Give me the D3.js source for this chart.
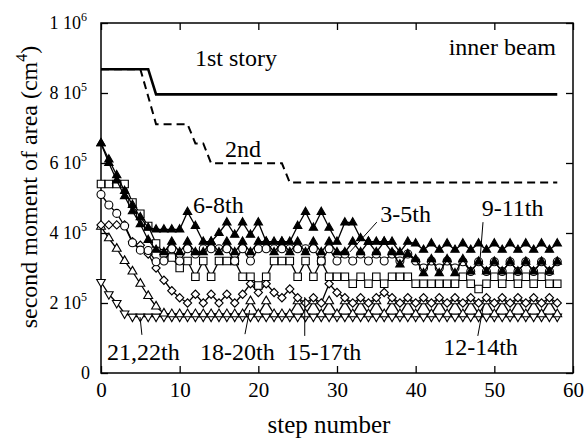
<!DOCTYPE html>
<html><head><meta charset="utf-8">
<script src="https://cdn.jsdelivr.net/npm/d3@7"></script>
<style>
body{margin:0;background:#fff}
svg{display:block}
</style>
</head><body><svg id="c" width="586" height="439"></svg>
<script>
// ---------- DATA (values in 10^3 cm^4) ----------
const steps = d3.range(0, 59);
const story1 = [868,868,868,868,868,868,868,796,796,796,
  796,796,796,796,796,796,796,796,796,796,
  796,796,796,796,796,796,796,796,796,796,
  796,796,796,796,796,796,796,796,796,796,
  796,796,796,796,796,796,796,796,796,796,
  796,796,796,796,796,796,796,796,796];
const story2 = [868,868,868,868,868,868,790,711,711,711,
  711,711,656,656,599,599,599,599,599,599,
  599,599,599,599,544,544,544,544,544,544,
  544,544,544,544,544,544,544,544,544,544,
  544,544,544,544,544,544,544,544,544,544,
  544,544,544,544,544,544,544,544,544];
const s6_8 = [656,610,565,520,480,445,415,410,410,410,
  410,460,420,375,375,400,430,395,430,395,
  430,375,375,375,375,420,460,415,460,415,
  375,430,430,385,375,375,375,375,345,375,
  370,352,370,352,370,352,370,352,370,352,
  370,352,370,352,370,352,370,352,370];
const s3_5 = [656,600,550,505,462,425,380,352,345,375,
  345,375,345,345,375,345,375,345,375,345,
  375,375,345,375,345,375,345,375,345,375,
  345,345,375,345,375,345,375,345,310,340,
  325,285,325,285,325,285,325,290,318,290,
  318,290,318,290,318,290,318,290,318];
const s9_11 = [510,480,456,420,372,351,350,318,320,355,
  320,355,340,355,355,355,355,320,355,320,
  355,355,355,355,355,355,355,355,320,355,
  320,340,320,340,320,340,320,340,320,340,
  320,300,320,300,320,300,318,290,318,290,
  318,290,318,290,318,290,318,290,318];
const s12_14 = [540,540,540,540,487,455,420,370,342,330,
  300,320,275,320,275,320,320,320,275,275,
  250,275,320,320,320,275,320,275,320,275,
  275,275,255,275,255,275,255,275,275,275,
  255,255,255,255,255,255,275,255,240,255,
  275,255,275,255,275,255,275,255,255];
const s15_17 = [423,423,423,423,375,365,340,300,265,235,
  215,200,225,200,225,200,225,200,225,255,
  230,255,230,215,240,215,200,215,200,255,
  230,215,200,215,200,215,230,215,200,215,
  200,215,200,215,200,215,200,215,200,215,
  200,215,200,215,200,215,200,215,200];
const s18_20 = [418,385,355,320,290,255,220,190,170,168,
  168,168,168,168,168,168,168,168,168,205,
  168,205,168,168,168,205,168,205,168,205,
  168,205,168,205,168,205,168,205,168,205,
  168,205,168,205,168,205,168,205,168,205,
  168,205,168,205,168,205,168,205,168];
const s21_22 = [260,225,200,170,161,161,161,161,161,161,
  161,161,161,161,161,161,161,161,161,161,
  161,161,161,161,161,161,161,161,161,161,
  161,161,161,161,161,161,161,161,161,161,
  161,161,161,161,161,161,161,161,161,161,
  161,161,161,161,161,161,161,161,161];

const xTicks = [0, 10, 20, 30, 40, 50, 60];
const yTicks = [0, 200, 400, 600, 800, 1000];
const yTickMant = ["0", "2 10", "4 10", "6 10", "8 10", "1 10"];
const yTickExp  = ["", "5", "5", "5", "5", "6"];

const labelTexts = ["1st story", "2nd", "6-8th", "3-5th", "9-11th", "12-14th", "15-17th", "18-20th", "21,22th", "inner beam"];

// ---------- LAYOUT ----------
const FONT = '"Liberation Serif","Times New Roman",Times,serif';
const svg = d3.select("#c");
const m = {l:101, r:573, t:23, b:373};
const x = d3.scaleLinear().domain([0, 60]).range([m.l, m.r]);
const y = d3.scaleLinear().domain([0, 1000]).range([m.b, m.t]);

// annotation placement (data coords)
const labelPos = [[11.95,877],[15.76,617],[11.7,457],[35.5,431],[48.4,449],[43.5,51],[23.6,37],[12.6,37],[0.76,37],[44.2,909]];
const leaders = [
  [[35.06,431],[31.65,346]],
  [[48.56,431],[48.2,329]],
  [[47.9,106],[48.6,191]],
  [[25.9,106],[25.9,217]],
  [[18.3,111],[18.9,180]],
  [[5.2,109],[4.96,160]]
];

// ---------- AXES ----------
const tickLen = 7;
function styleAxis(g){ g.attr("font-family",null); g.select(".domain").remove(); g.selectAll(".tick line").attr("stroke","#000").attr("stroke-width",1.3); }

svg.append("g").attr("transform",`translate(0,${m.b})`)
  .call(d3.axisBottom(x).tickValues(xTicks).tickSize(-tickLen).tickSizeOuter(0))
  .call(styleAxis)
  .call(g=>g.selectAll(".tick text").attr("y",24).attr("dy",0).attr("font-size",21).attr("fill","#000").style("font-family",FONT));

svg.append("g").attr("transform",`translate(0,${m.t})`)
  .call(d3.axisTop(x).tickValues(xTicks).tickSize(-tickLen).tickSizeOuter(0).tickFormat(""))
  .call(styleAxis);

svg.append("g").attr("transform",`translate(${m.r},0)`)
  .call(d3.axisRight(y).tickValues(yTicks).tickSize(-tickLen).tickSizeOuter(0).tickFormat(""))
  .call(styleAxis);

const gL = svg.append("g").attr("transform",`translate(${m.l},0)`)
  .call(d3.axisLeft(y).tickValues(yTicks).tickSize(-tickLen).tickSizeOuter(0).tickFormat(""))
  .call(styleAxis);
gL.selectAll(".tick").each(function(d,i){
  const t = d3.select(this).append("text")
    .attr("x", yTickExp[i] ? -14 : -11).attr("y", 5)
    .attr("text-anchor","end").attr("font-size",18).attr("fill","#000")
    .style("font-family",FONT);
  t.append("tspan").text(yTickMant[i]);
  if (yTickExp[i]) t.append("tspan").attr("font-size",12).attr("dy",-8).text(yTickExp[i]);
});

// frame
svg.append("rect").attr("x",m.l).attr("y",m.t).attr("width",m.r-m.l).attr("height",m.b-m.t)
  .attr("fill","none").attr("stroke","#000").attr("stroke-width",1.5);

// axis titles
svg.append("text").attr("x",329).attr("y",433).attr("text-anchor","middle")
  .attr("font-size",25).style("font-family",FONT).text("step number");
const yt = svg.append("text").attr("transform","translate(37,187) rotate(-90)")
  .attr("text-anchor","middle").attr("font-size",24).style("font-family",FONT);
yt.append("tspan").text("second moment of area (cm");
yt.append("tspan").attr("font-size",16).attr("dy",-10).text("4");
yt.append("tspan").attr("dy",10).text(")");

// ---------- LINES ----------
const line = d3.line().x((d,i)=>x(steps[i])).y(d=>y(d));
svg.append("path").datum(story2).attr("d",line).attr("fill","none").attr("stroke","#000")
  .attr("stroke-width",2).attr("stroke-dasharray","8,5");
svg.append("path").datum(story1).attr("d",line).attr("fill","none").attr("stroke","#000")
  .attr("stroke-width",2.6);

// ---------- MARKER SERIES ----------
const series = [
  {v:s21_22, sym:d3.symbolTriangle, size:32, rot:180, fill:"#fff"},
  {v:s18_20, sym:d3.symbolTriangle, size:34, rot:0,   fill:"#fff"},
  {v:s15_17, sym:d3.symbolSquare,   size:34, rot:45,  fill:"#fff"},
  {v:s12_14, sym:d3.symbolSquare,   size:56, rot:0,   fill:"#fff"},
  {v:s9_11,  sym:d3.symbolCircle,   size:50, rot:0,   fill:"#fff"},
  {v:s3_5,   sym:d3.symbolTriangle, size:30, rot:0,   fill:"#000"},
  {v:s6_8,   sym:d3.symbolTriangle, size:30, rot:0,   fill:"#000"}
];
series.forEach(s=>{
  const g = svg.append("g");
  g.append("path").datum(s.v).attr("d",line).attr("fill","none").attr("stroke","#000").attr("stroke-width",1.3);
  g.selectAll("path.m").data(s.v).join("path").attr("class","m")
    .attr("d", d3.symbol().type(s.sym).size(s.size))
    .attr("transform",(d,i)=>`translate(${x(steps[i])},${y(d)}) rotate(${s.rot})`)
    .attr("fill",s.fill).attr("stroke","#000").attr("stroke-width",1.1);
});

// ---------- ANNOTATIONS ----------
leaders.forEach(l=>{
  svg.append("line").attr("x1",x(l[0][0])).attr("y1",y(l[0][1]))
    .attr("x2",x(l[1][0])).attr("y2",y(l[1][1])).attr("stroke","#000").attr("stroke-width",1);
});
labelTexts.forEach((t,i)=>{
  svg.append("text").attr("x",x(labelPos[i][0])).attr("y",y(labelPos[i][1]))
    .attr("font-size", 24).attr("fill","#000").style("font-family",FONT).text(t);
});
</script>
</body></html>
